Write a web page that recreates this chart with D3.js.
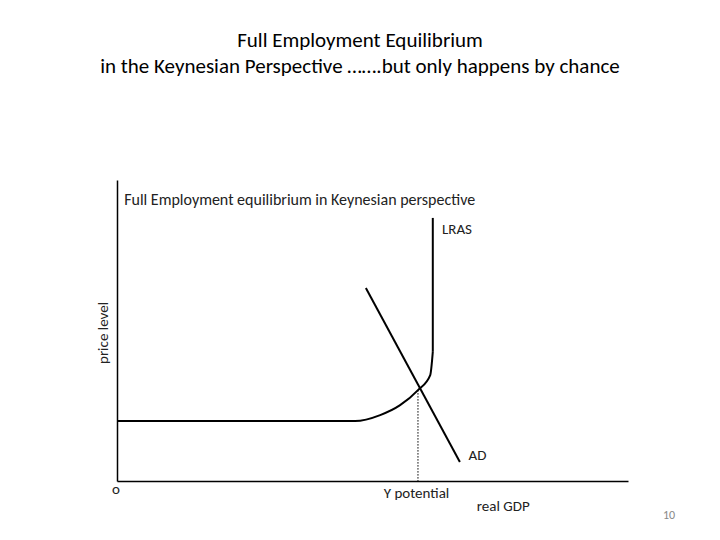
<!DOCTYPE html><html><head><meta charset="utf-8"><script src="https://cdn.jsdelivr.net/npm/d3@7"></script>
<style>body{margin:0;background:#fff}</style></head><body><svg id="c" width="720" height="540"></svg>
<script>
const titleLines=["Full Employment Equilibrium","in the Keynesian Perspective …….but only happens by chance"];
const lrasX=[0,46.6,51.5,55.4,58.9,61.3,61.8,61.8];
const lrasY=[19.9,19.9,21.9,25.2,30.2,35.2,42.9,87.4];
const adX=[48.7,67.1];
const adY=[64.1,6.3];
const yPotential=58.9, eqY=30.2;
const labels=["LRAS","AD","Y potential","real GDP","price level","o"];

const svg=d3.select("#c");
const x=d3.scaleLinear().domain([0,100]).range([117,628]);
const y=d3.scaleLinear().domain([0,100]).range([481,180]);
const ff="Carlito, 'Open Sans', 'Liberation Sans', sans-serif";
svg.selectAll("text.t").data(titleLines).join("text").attr("x",360).attr("y",(d,i)=>47+i*26)
 .attr("text-anchor","middle").attr("font-family",ff).attr("font-size",21).text(d=>d);
svg.append("g").attr("transform",`translate(0,${y(0)})`).call(d3.axisBottom(x).ticks(0).tickSize(0)).call(g=>g.select(".domain").attr("stroke","#000").attr("stroke-width",1.5));
svg.append("g").attr("transform",`translate(${x(0)},0)`).call(d3.axisLeft(y).ticks(0).tickSize(0)).call(g=>g.select(".domain").attr("stroke","#000").attr("stroke-width",1.5));
const pts=lrasX.map((v,i)=>[v,lrasY[i]]);
const line=d3.line().x(d=>x(d[0])).y(d=>y(d[1]));
svg.append("path").datum(pts.slice(0,7)).attr("d",d3.line().x(d=>x(d[0])).y(d=>y(d[1])).curve(d3.curveMonotoneX))
 .attr("fill","none").attr("stroke","#000").attr("stroke-width",2);
svg.append("path").datum(pts.slice(6)).attr("d",line)
 .attr("fill","none").attr("stroke","#000").attr("stroke-width",2);
svg.append("path").datum(adX.map((v,i)=>[v,adY[i]])).attr("d",line)
 .attr("fill","none").attr("stroke","#000").attr("stroke-width",2);
svg.append("line").attr("x1",x(yPotential)).attr("x2",x(yPotential)).attr("y1",y(eqY)).attr("y2",y(0))
 .attr("stroke","#000").attr("stroke-dasharray","1.5,1.5").attr("stroke-width",1);
const t=(s,px,py,sz,rot)=>svg.append("text").attr("x",px).attr("y",py).attr("font-family",ff).attr("font-size",sz)
 .attr("fill","#222").attr("transform",rot?`rotate(-90,${px},${py})`:null).text(s);
t("Full Employment equilibrium in Keynesian perspective",x(1.4),205,16);
t(labels[0],x(63.6),234,15);
t(labels[1],x(68.8),460,15);
t(labels[2],x(52.2),498,15);
t(labels[3],x(70.4),511,15);
t(labels[4],108,364,15,true);
t(labels[5],112,494,15);
svg.append("text").attr("x",663).attr("y",519).attr("font-family",ff).attr("font-size",12).attr("fill","#888").text("10");
</script></body></html>
